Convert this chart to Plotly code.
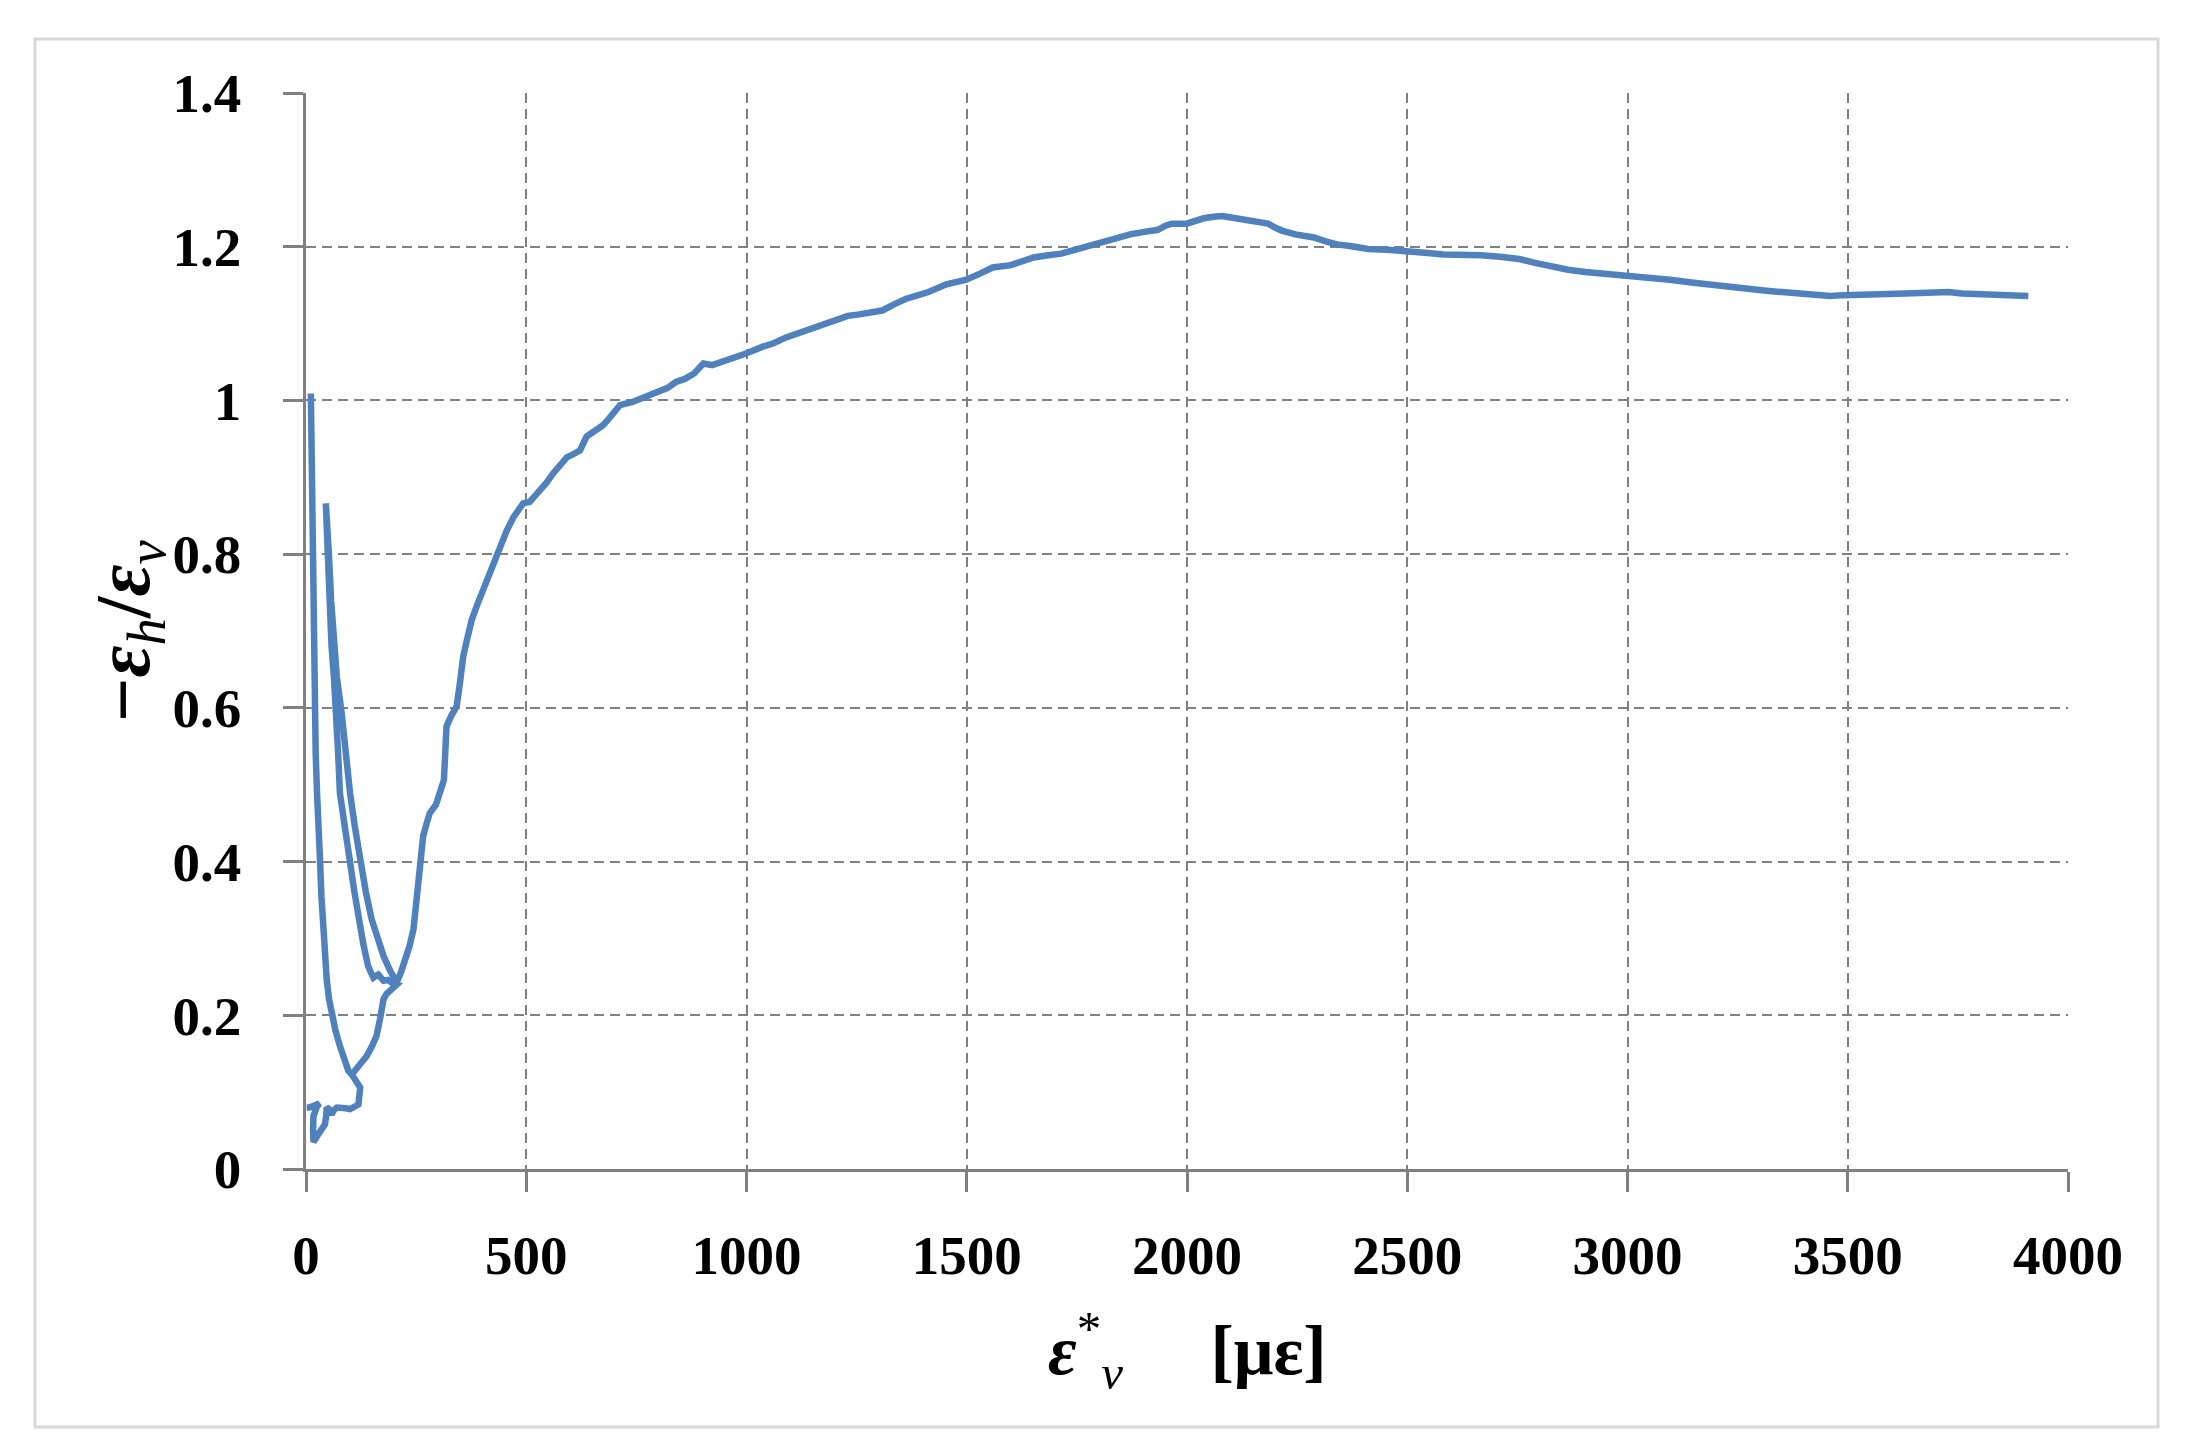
import plotly.graph_objects as go

# first loading branch and the toe near zero strain
x_start = [11, 12, 13, 14, 15, 17, 19, 22, 25, 28, 30, 32, 35, 39, 43, 47, 52, 58, 67, 77, 88, 96,
           104, 111, 117, 123, 121, 119, 110, 100, 90, 80, 70, 64, 58, 52, 47, 46, 43, 30, 17, 16,
           17, 24, 30, 24, 17, 8, 1.5]
y_start = [1.009, 0.960, 0.918, 0.850, 0.775, 0.680, 0.606, 0.540, 0.490, 0.463, 0.430, 0.400,
           0.355, 0.312, 0.278, 0.247, 0.222, 0.201, 0.180, 0.160, 0.138, 0.128, 0.123, 0.117,
           0.112, 0.106, 0.095, 0.084, 0.081, 0.078, 0.079, 0.079, 0.080, 0.077, 0.071, 0.078,
           0.080, 0.070, 0.058, 0.047, 0.035, 0.052, 0.069, 0.080, 0.085, 0.084, 0.082, 0.080,
           0.080]

# reloading, unload/reload cycle and the main curve
x_main = [104, 110, 120, 130, 138, 150, 160, 168, 176, 183, 191, 200, 206,
          196, 186, 176, 170, 164, 158, 153, 147, 141, 130, 119, 110, 100, 88, 77, 73, 70, 64, 58,
          54, 51, 47, 45,
          47, 52, 57, 63, 70, 81, 90, 100, 111, 123, 136, 149, 162, 176, 191, 206,
          215, 225, 235, 244, 250, 255, 259, 266, 274, 281, 295, 304, 313, 316, 319, 330, 342, 350,
          357, 366, 376, 388, 399, 410, 418, 436, 446, 456, 471, 482, 493, 508, 520, 531, 546, 561,
          576, 592, 607, 622, 637, 660, 675, 690, 713, 741, 770, 798, 820, 840, 860, 881, 902, 922,
          944, 970, 999, 1037, 1060, 1090, 1120, 1152, 1180, 1204, 1230, 1256, 1280, 1308, 1335,
          1361, 1390, 1413, 1454, 1499, 1530, 1559, 1600, 1625, 1652, 1685, 1715, 1745, 1777, 1800,
          1819, 1845, 1871, 1900, 1934, 1950, 1965, 1999, 2020, 2038, 2060, 2080, 2100, 2121, 2153,
          2170, 2184, 2200, 2215, 2246, 2265, 2288, 2315, 2340, 2370, 2411, 2455, 2500, 2540, 2582,
          2625, 2668, 2710, 2754, 2790, 2829, 2865, 2904, 2950, 2998, 3045, 3096, 3150, 3203, 3255,
          3310, 3350, 3385, 3420, 3460, 3490, 3524, 3580, 3631, 3680, 3728, 3760, 3800, 3846, 3880,
          3910]
y_main = [0.123, 0.127, 0.133, 0.140, 0.147, 0.160, 0.173, 0.195, 0.221, 0.228, 0.232, 0.236, 0.240,
          0.242, 0.246, 0.245, 0.250, 0.253, 0.251, 0.249, 0.256, 0.264, 0.293, 0.325, 0.360, 0.399,
          0.445, 0.489, 0.540, 0.593, 0.635, 0.680, 0.750, 0.809, 0.845, 0.866,
          0.850, 0.800, 0.740, 0.680, 0.640, 0.593, 0.540, 0.489, 0.445, 0.398, 0.360, 0.325, 0.300,
          0.277, 0.258, 0.243,
          0.255, 0.271, 0.290, 0.312, 0.345, 0.377, 0.403, 0.433, 0.450, 0.463, 0.474, 0.490, 0.506,
          0.540, 0.576, 0.590, 0.602, 0.635, 0.667, 0.690, 0.714, 0.733, 0.749, 0.765, 0.779, 0.801,
          0.817, 0.831, 0.848, 0.857, 0.866, 0.868, 0.875, 0.883, 0.893, 0.905, 0.916, 0.926, 0.930,
          0.935, 0.953, 0.961, 0.968, 0.978, 0.994, 0.998, 1.004, 1.011, 1.016, 1.024, 1.028, 1.035,
          1.048, 1.046, 1.050, 1.056, 1.061, 1.070, 1.074, 1.082, 1.088, 1.095, 1.100, 1.106, 1.110,
          1.112, 1.114, 1.117, 1.125, 1.132, 1.137, 1.141, 1.151, 1.157, 1.165, 1.173, 1.176, 1.181,
          1.186, 1.189, 1.191, 1.196, 1.201, 1.205, 1.209, 1.212, 1.216, 1.219, 1.222, 1.227, 1.230,
          1.230, 1.234, 1.237, 1.239, 1.240, 1.238, 1.236, 1.235, 1.233, 1.230, 1.225, 1.221, 1.216,
          1.214, 1.212, 1.207, 1.203, 1.201, 1.197, 1.196, 1.195, 1.192, 1.190, 1.190, 1.189, 1.187,
          1.184, 1.179, 1.174, 1.170, 1.167, 1.165, 1.162, 1.160, 1.157, 1.153, 1.149, 1.146, 1.143,
          1.141, 1.139, 1.138, 1.136, 1.137, 1.138, 1.138, 1.139, 1.140, 1.141, 1.139, 1.138, 1.136,
          1.137, 1.136]

x_ticks = [0, 500, 1000, 1500, 2000, 2500, 3000, 3500, 4000]
x_ticktext = ["0", "500", "1000", "1500", "2000", "2500", "3000", "3500", "4000"]
y_ticks = [0, 0.2, 0.4, 0.6, 0.8, 1.0, 1.2, 1.4]
y_ticktext = ["0", "0.2", "0.4", "0.6", "0.8", "1", "1.2", "1.4"]

# page coordinates of the reference; the html body adds an 8px margin
OFF = 8
W, H = 2194 - OFF, 1455 - OFF
L, R, T, B = 306 - OFF, 2068 - OFF, 93 - OFF, 1169 - OFF   # plot area
FONT = "Liberation Serif"
BLUE = "#4f81bd"
GREY = "#808080"


def px(x):
    return (x - OFF - L) / (R - L)


def py(y):
    return (B - (y - OFF)) / (B - T)


fig = go.Figure()
for xs, ys in [(x_start, y_start), (x_main, y_main)]:
    fig.add_trace(go.Scatter(x=xs, y=ys, mode="lines",
                             line=dict(color=BLUE, width=6.5), showlegend=False))

axis = dict(showline=True, linecolor=GREY, linewidth=2.5,
            showgrid=True, gridcolor=GREY, gridwidth=2, griddash="10px,6px",
            zeroline=False, ticks="outside", ticklen=20, tickwidth=2.5, tickcolor=GREY,
            tickfont=dict(family=FONT, size=55, color="black", weight="bold"))

fig.update_xaxes(range=[0, 4000], tickvals=x_ticks, ticktext=x_ticktext,
                 ticklabelstandoff=16, **axis)
fig.update_yaxes(range=[0, 1.4], tickvals=y_ticks, ticktext=y_ticktext,
                 ticklabelstandoff=31, **axis)

fig.add_annotation(
    text="<b><i>ε</i></b><sup>*</sup><sub><i>v</i></sub>     <b>[με]</b>",
    xref="paper", yref="paper", x=0.5, y=py(1350), xanchor="center", yanchor="middle",
    showarrow=False, font=dict(family=FONT, size=70, color="black"))
fig.add_annotation(
    text="<b>−<i>ε</i></b><sub><i>h</i></sub><b>/<i>ε</i></b><sub><i>v</i></sub>",
    xref="paper", yref="paper", x=px(128), y=0.5, xanchor="center", yanchor="middle",
    textangle=-90, showarrow=False, font=dict(family=FONT, size=78, color="black"))

# light frame around the whole chart
fig.add_shape(type="rect", xref="paper", yref="paper",
              x0=px(35), x1=px(2158), y0=py(1427), y1=py(39),
              line=dict(color="#d9d9d9", width=3))

fig.update_layout(width=W, height=H, margin=dict(l=L, r=W - R, t=T, b=H - B),
                  paper_bgcolor="white", plot_bgcolor="white")

fig.write_html("out.html")
